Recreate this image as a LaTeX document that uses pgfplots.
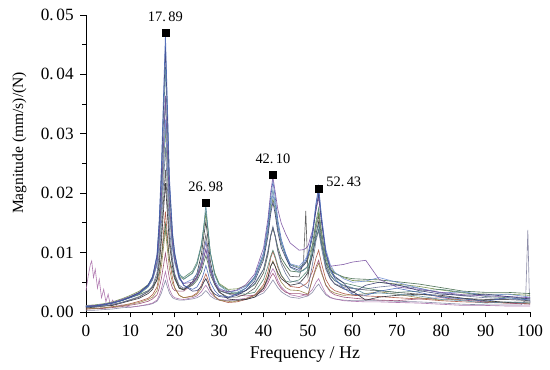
\documentclass[border=0pt]{standalone}
\usepackage{pgfplots}
\pgfplotsset{compat=1.18}
\usepackage{pgfplotstable}
\usepackage{fontspec}
\setmainfont{Liberation Serif}
\newcommand\pd{\hspace{0.16em}}

\definecolor{k1}{RGB}{70,100,180}
\definecolor{k2}{RGB}{50,55,110}
\definecolor{k3}{RGB}{90,140,160}
\definecolor{k4}{RGB}{120,80,160}
\definecolor{k5}{RGB}{110,140,70}
\definecolor{k6}{RGB}{80,80,80}
\definecolor{k7}{RGB}{170,80,60}
\definecolor{k8}{RGB}{170,110,170}
\definecolor{k9}{RGB}{110,140,210}
\definecolor{k10}{RGB}{60,100,70}
\definecolor{k11}{RGB}{130,130,160}
\definecolor{k12}{RGB}{40,40,50}
\definecolor{m1}{RGB}{150,130,70}
\definecolor{m2}{RGB}{100,110,150}
\definecolor{m3}{RGB}{80,130,110}
\definecolor{m4}{RGB}{150,70,110}

\pgfplotstableread{
x    c1     c2     c3     c4     c5     c6     c7     c9     c10    c12
0    0.0009 0.0009 0.0010 0.0010 0.0011 0.0008 0.0005 0.0010 0.0010 0.0007
2    0.0010 0.0010 0.0011 0.0011 0.0012 0.0009 0.0006 0.0011 0.0010 0.0008
4    0.0012 0.0012 0.0013 0.0013 0.0014 0.0010 0.0007 0.0013 0.0012 0.0010
6    0.0015 0.0015 0.0015 0.0016 0.0017 0.0012 0.0009 0.0016 0.0015 0.0011
8    0.0019 0.0019 0.0020 0.0021 0.0022 0.0016 0.0011 0.0020 0.0019 0.0015
10   0.0024 0.0025 0.0026 0.0026 0.0028 0.0020 0.0014 0.0026 0.0024 0.0019
12   0.0031 0.0032 0.0033 0.0033 0.0035 0.0025 0.0018 0.0032 0.0029 0.0023
14   0.0044 0.0045 0.0046 0.0045 0.0046 0.0034 0.0023 0.0043 0.0036 0.0031
15   0.0059 0.0059 0.0060 0.0057 0.0056 0.0042 0.0029 0.0054 0.0042 0.0038
16   0.0097 0.0094 0.0091 0.0085 0.0080 0.0060 0.0042 0.0079 0.0053 0.0055
16.5 0.0156 0.0149 0.0142 0.0128 0.0116 0.0088 0.0062 0.0117 0.0067 0.0080
17   0.0247 0.0235 0.0219 0.0196 0.0172 0.0131 0.0093 0.0177 0.0092 0.0120
17.5 0.0373 0.0352 0.0327 0.0289 0.0248 0.0191 0.0135 0.0259 0.0123 0.0174
17.9 0.0468 0.0446 0.0412 0.0364 0.0310 0.0239 0.0169 0.0324 0.0149 0.0217
18.3 0.0362 0.0342 0.0319 0.0282 0.0243 0.0187 0.0132 0.0253 0.0122 0.0170
18.8 0.0227 0.0216 0.0205 0.0183 0.0163 0.0125 0.0088 0.0166 0.0090 0.0114
19.5 0.0134 0.0129 0.0127 0.0115 0.0108 0.0082 0.0057 0.0107 0.0068 0.0076
20   0.0100 0.0097 0.0095 0.0088 0.0085 0.0062 0.0040 0.0082 0.0055 0.0058
21   0.0060 0.0058 0.0065 0.0058 0.0060 0.0042 0.0028 0.0055 0.0040 0.0040
22   0.0045 0.0045 0.0055 0.0048 0.0055 0.0038 0.0024 0.0048 0.0038 0.0037
24   0.0038 0.0035 0.0065 0.0050 0.0066 0.0048 0.0027 0.0055 0.0045 0.0051
25   0.0042 0.0036 0.0080 0.0058 0.0080 0.0060 0.0032 0.0064 0.0053 0.0065
26   0.0055 0.0042 0.0112 0.0075 0.0110 0.0085 0.0045 0.0084 0.0068 0.0097
26.5 0.0065 0.0050 0.0142 0.0090 0.0138 0.0108 0.0055 0.0102 0.0082 0.0126
27   0.0078 0.0056 0.0181 0.0105 0.0165 0.0130 0.0064 0.0119 0.0095 0.0152
27.5 0.0065 0.0048 0.0138 0.0088 0.0136 0.0106 0.0054 0.0100 0.0081 0.0122
28   0.0050 0.0038 0.0100 0.0068 0.0100 0.0076 0.0041 0.0076 0.0063 0.0086
29   0.0036 0.0030 0.0062 0.0048 0.0066 0.0046 0.0026 0.0053 0.0046 0.0050
30   0.0028 0.0026 0.0045 0.0038 0.0048 0.0033 0.0020 0.0040 0.0036 0.0034
32   0.0025 0.0024 0.0034 0.0034 0.0038 0.0025 0.0016 0.0033 0.0031 0.0022
34   0.0030 0.0028 0.0033 0.0037 0.0039 0.0025 0.0017 0.0036 0.0032 0.0020
36   0.0040 0.0036 0.0040 0.0046 0.0044 0.0030 0.0021 0.0043 0.0036 0.0021
38   0.0060 0.0052 0.0056 0.0064 0.0058 0.0040 0.0028 0.0057 0.0046 0.0025
40   0.0100 0.0088 0.0095 0.0108 0.0092 0.0066 0.0046 0.0095 0.0072 0.0040
41   0.0150 0.0128 0.0142 0.0158 0.0135 0.0097 0.0068 0.0139 0.0102 0.0058
41.6 0.0194 0.0165 0.0184 0.0202 0.0172 0.0127 0.0091 0.0178 0.0129 0.0077
42.1 0.0219 0.0185 0.0206 0.0227 0.0191 0.0141 0.0102 0.0198 0.0142 0.0084
42.6 0.0195 0.0165 0.0184 0.0203 0.0172 0.0127 0.0091 0.0178 0.0129 0.0077
43.2 0.0155 0.0135 0.0147 0.0173 0.0141 0.0104 0.0075 0.0144 0.0109 0.0066
44   0.0122 0.0108 0.0116 0.0149 0.0114 0.0085 0.0061 0.0116 0.0091 0.0056
45   0.0098 0.0091 0.0094 0.0131 0.0095 0.0072 0.0051 0.0097 0.0079 0.0050
46   0.0079 0.0076 0.0075 0.0116 0.0080 0.0060 0.0043 0.0081 0.0069 0.0045
48   0.0073 0.0070 0.0067 0.0104 0.0075 0.0059 0.0041 0.0077 0.0067 0.0048
49   0.0081 0.0078 0.0070 0.0105 0.0080 0.0086 0.0045 0.0085 0.0071 0.0056
49.5 0.0087 0.0083 0.0073 0.0107 0.0083 0.0170 0.0047 0.0090 0.0074 0.0061
50   0.0096 0.0092 0.0077 0.0111 0.0089 0.0060 0.0051 0.0098 0.0078 0.0067
51   0.0132 0.0126 0.0099 0.0137 0.0113 0.0104 0.0068 0.0133 0.0097 0.0095
51.8 0.0183 0.0174 0.0130 0.0170 0.0148 0.0141 0.0091 0.0180 0.0124 0.0131
52.4 0.0211 0.0199 0.0147 0.0193 0.0167 0.0162 0.0104 0.0206 0.0139 0.0152
53   0.0164 0.0156 0.0118 0.0153 0.0135 0.0128 0.0083 0.0163 0.0115 0.0119
54   0.0101 0.0099 0.0079 0.0101 0.0093 0.0083 0.0055 0.0106 0.0084 0.0076
55   0.0072 0.0073 0.0061 0.0077 0.0075 0.0063 0.0042 0.0080 0.0071 0.0057
56   0.0057 0.0060 0.0053 0.0078 0.0066 0.0053 0.0036 0.0067 0.0065 0.0047
58   0.0040 0.0049 0.0045 0.0080 0.0058 0.0044 0.0031 0.0056 0.0059 0.0039
60   0.0030 0.0032 0.0041 0.0084 0.0053 0.0040 0.0028 0.0050 0.0056 0.0035
63   0.0028 0.0045 0.0030 0.0087 0.0052 0.0037 0.0027 0.0052 0.0055 0.0020
66   0.0035 0.0050 0.0032 0.0055 0.0050 0.0036 0.0026 0.0058 0.0054 0.0025
70   0.0040 0.0046 0.0030 0.0042 0.0047 0.0033 0.0024 0.0050 0.0051 0.0028
75   0.0033 0.0036 0.0027 0.0038 0.0043 0.0030 0.0022 0.0040 0.0047 0.0030
80   0.0025 0.0030 0.0021 0.0033 0.0037 0.0026 0.0019 0.0032 0.0041 0.0028
85   0.0022 0.0028 0.0019 0.0029 0.0032 0.0023 0.0017 0.0034 0.0035 0.0023
90   0.0018 0.0030 0.0015 0.0027 0.0030 0.0021 0.0016 0.0028 0.0033 0.0019
95   0.0024 0.0026 0.0017 0.0026 0.0030 0.0021 0.0015 0.0030 0.0033 0.0016
100  0.0020 0.0022 0.0015 0.0024 0.0028 0.0019 0.0014 0.0025 0.0031 0.0017
}\frfdata

\pgfplotstableread{
x    d1     d2     d3     d4
0    0.0005 0.0008 0.0009 0.0005
4    0.0007 0.0010 0.0012 0.0006
8    0.0010 0.0016 0.0019 0.0009
12   0.0016 0.0026 0.0030 0.0014
14   0.0021 0.0035 0.0042 0.0018
15   0.0025 0.0044 0.0054 0.0022
16   0.0036 0.0066 0.0082 0.0029
16.5 0.0052 0.0099 0.0125 0.0040
17   0.0077 0.0150 0.0193 0.0057
17.5 0.0111 0.0220 0.0286 0.0080
17.9 0.0138 0.0277 0.0360 0.0099
18.3 0.0109 0.0215 0.0279 0.0079
18.8 0.0073 0.0141 0.0181 0.0056
19.5 0.0048 0.0089 0.0113 0.0040
20   0.0041 0.0064 0.0085 0.0036
21   0.0028 0.0045 0.0062 0.0035
22   0.0024 0.0040 0.0058 0.0035
24   0.0026 0.0048 0.0069 0.0047
25   0.0030 0.0056 0.0084 0.0058
26   0.0040 0.0076 0.0114 0.0080
26.5 0.0050 0.0092 0.0142 0.0100
27   0.0056 0.0106 0.0170 0.0118
27.5 0.0048 0.0090 0.0138 0.0098
28   0.0038 0.0070 0.0100 0.0073
29   0.0026 0.0048 0.0064 0.0048
30   0.0020 0.0036 0.0046 0.0036
33   0.0017 0.0028 0.0032 0.0030
36   0.0022 0.0036 0.0030 0.0027
38   0.0028 0.0048 0.0033 0.0028
40   0.0042 0.0072 0.0055 0.0036
41   0.0060 0.0104 0.0078 0.0049
41.6 0.0077 0.0128 0.0094 0.0059
42.1 0.0086 0.0144 0.0104 0.0065
42.6 0.0077 0.0128 0.0094 0.0059
43.2 0.0062 0.0102 0.0078 0.0048
44   0.0050 0.0080 0.0062 0.0039
45   0.0041 0.0064 0.0052 0.0033
46   0.0037 0.0052 0.0050 0.0031
48   0.0036 0.0050 0.0054 0.0031
50   0.0030 0.0040 0.0070 0.0028
51   0.0055 0.0080 0.0112 0.0056
51.8 0.0072 0.0120 0.0153 0.0076
52.4 0.0082 0.0137 0.0175 0.0087
53   0.0066 0.0109 0.0139 0.0069
54   0.0046 0.0072 0.0090 0.0045
55   0.0036 0.0056 0.0068 0.0034
56   0.0032 0.0048 0.0058 0.0029
58   0.0028 0.0041 0.0049 0.0025
62   0.0030 0.0038 0.0042 0.0022
66   0.0034 0.0042 0.0036 0.0020
70   0.0030 0.0045 0.0033 0.0019
75   0.0024 0.0040 0.0035 0.0022
80   0.0020 0.0032 0.0038 0.0024
85   0.0022 0.0027 0.0033 0.0020
90   0.0018 0.0024 0.0026 0.0017
95   0.0016 0.0022 0.0024 0.0015
100  0.0015 0.0020 0.0022 0.0013
}\frfmore

\pgfplotstableread{
x y
0 0.0035
0.5 0.0060
1.0 0.0080
1.3 0.0086
1.7 0.0058
2.1 0.0072
2.6 0.0040
3.0 0.0055
3.5 0.0024
4.0 0.0038
4.5 0.0017
5.0 0.0030
5.5 0.0011
6.0 0.0020
7.0 0.0009
8.0 0.0012
10 0.0008
12 0.0010
14 0.0013
15 0.0015
16 0.0020
16.5 0.0028
17 0.0039
17.5 0.0055
17.9 0.0068
18.3 0.0054
18.8 0.0038
19.5 0.0027
20 0.0024
21 0.0022
22 0.0021
24 0.0024
25 0.0027
26 0.0034
26.5 0.0040
27 0.0045
27.5 0.0039
28 0.0032
29 0.0025
30 0.0021
32 0.0020
34 0.0021
36 0.0023
38 0.0029
40 0.0040
41 0.0054
41.6 0.0066
42.1 0.0073
42.6 0.0066
43.2 0.0053
44 0.0042
45 0.0035
46 0.0029
48 0.0026
49 0.0028
49.5 0.0029
50 0.0030
51 0.0038
51.8 0.0050
52.4 0.0056
53 0.0046
54 0.0031
55 0.0025
56 0.0022
58 0.0019
60 0.0018
63 0.0017
66 0.0017
70 0.0016
75 0.0015
80 0.0013
85 0.0011
90 0.0011
95 0.0010
100 0.0010
}\frfeight

\pgfplotstableread{
x y
0 0.0003
2 0.0003
4 0.0004
6 0.0005
8 0.0007
10 0.0008
12 0.0010
14 0.0012
15 0.0014
16 0.0018
16.5 0.0024
17 0.0032
17.5 0.0044
17.9 0.0053
18.3 0.0043
18.8 0.0032
19.5 0.0024
20 0.0022
21 0.0020
22 0.0020
24 0.0022
25 0.0024
26 0.0028
26.5 0.0032
27 0.0036
27.5 0.0032
28 0.0027
29 0.0022
30 0.0020
32 0.0019
34 0.0019
36 0.0021
38 0.0025
40 0.0032
41 0.0041
41.6 0.0048
42.1 0.0054
42.6 0.0048
43.2 0.0041
44 0.0034
45 0.0029
46 0.0025
48 0.0023
49 0.0025
49.5 0.0026
50 0.0027
51 0.0033
51.8 0.0042
52.4 0.0047
53 0.0039
54 0.0029
55 0.0024
56 0.0022
58 0.0020
60 0.0019
63 0.0019
66 0.0019
70 0.0018
75 0.0017
80 0.0015
85 0.0013
90 0.0012
95 0.0012
98 0.0012
99 0.0020
99.5 0.0138
99.8 0.0040
100 0.0015
}\frfeleven

\pgfplotstableread{
x y lab
17.89 0.0470 17.\pd89
26.98 0.0184 26.\pd98
42.10 0.0231 42.\pd10
}\peaksA

\pgfplotstableread{
x y lab
52.43 0.0207 52.\pd43
}\peaksB

\begin{document}
\begin{tikzpicture}
\begin{axis}[
  width=323pt, height=216pt, scale only axis,
  xmin=0, xmax=100, ymin=0, ymax=0.05,
  scaled y ticks=false,
  axis lines*=left,
  axis line style={line width=0.6pt, black},
  xtick={0,10,20,30,40,50,60,70,80,90,100},
  ytick={0,0.01,0.02,0.03,0.04,0.05},
  yticklabels={0.\pd00,0.\pd01,0.\pd02,0.\pd03,0.\pd04,0.\pd05},
  minor x tick num=1, minor y tick num=1,
  tick align=outside,
  major tick length=4pt, minor tick length=2.5pt,
  every tick/.style={black, line width=0.6pt},
  /pgf/number format/assume math mode=true,
  tick label style={font=\fontsize{12.5}{14}\selectfont},
  xticklabel style={yshift=-2.2pt},
  yticklabel style={xshift=-1.4pt},
  xlabel={Frequency / Hz},
  ylabel={Magnitude (mm/s)/(N)},
  xlabel style={font=\fontsize{13}{15}\selectfont, at={([yshift=-33.5pt]rel axis cs:0.493,0)}, anchor=base},
  ylabel style={font=\fontsize{11.3}{13}\selectfont, at={([xshift=-48.4pt]rel axis cs:0,0.569)}, anchor=center, rotate=0},
  clip=false,
  curve/.style={line width=0.45pt, mark=none, opacity=0.9},
]
\path ([xshift=-62.5pt,yshift=-41.5pt]rel axis cs:0,0) rectangle ([xshift=14.5pt,yshift=10.9pt]rel axis cs:1,1);
\addplot[curve, k7]  table[x=x,y=c7]  {\frfdata};
\addplot[curve, k11] table[x=x,y=y]   {\frfeleven};
\addplot[curve, k8]  table[x=x,y=y]   {\frfeight};
\addplot[curve, m4]  table[x=x,y=d4]  {\frfmore};
\addplot[curve, m1]  table[x=x,y=d1]  {\frfmore};
\addplot[curve, k10] table[x=x,y=c10] {\frfdata};
\addplot[curve, k12] table[x=x,y=c12] {\frfdata};
\addplot[curve, k6]  table[x=x,y=c6]  {\frfdata};
\addplot[curve, m2]  table[x=x,y=d2]  {\frfmore};
\addplot[curve, k5]  table[x=x,y=c5]  {\frfdata};
\addplot[curve, m3]  table[x=x,y=d3]  {\frfmore};
\addplot[curve, k9]  table[x=x,y=c9]  {\frfdata};
\addplot[curve, k3]  table[x=x,y=c3]  {\frfdata};
\addplot[curve, k4]  table[x=x,y=c4]  {\frfdata};
\addplot[curve, k2]  table[x=x,y=c2]  {\frfdata};
\addplot[curve, k1]  table[x=x,y=c1]  {\frfdata};
\addplot[only marks, mark=square*, mark size=2.5pt, black,
  nodes near coords, point meta=explicit symbolic,
  nodes near coords style={font=\fontsize{10.5}{12}\selectfont, anchor=south, yshift=4.2pt, text=black}]
  table[x=x,y=y,meta=lab] {\peaksA};
\addplot[only marks, mark=square*, mark size=2.5pt, black,
  nodes near coords, point meta=explicit symbolic,
  nodes near coords style={font=\fontsize{10.5}{12}\selectfont, anchor=base west, xshift=2pt, yshift=1.7pt, text=black}]
  table[x=x,y=y,meta=lab] {\peaksB};
\end{axis}
\end{tikzpicture}
\end{document}
